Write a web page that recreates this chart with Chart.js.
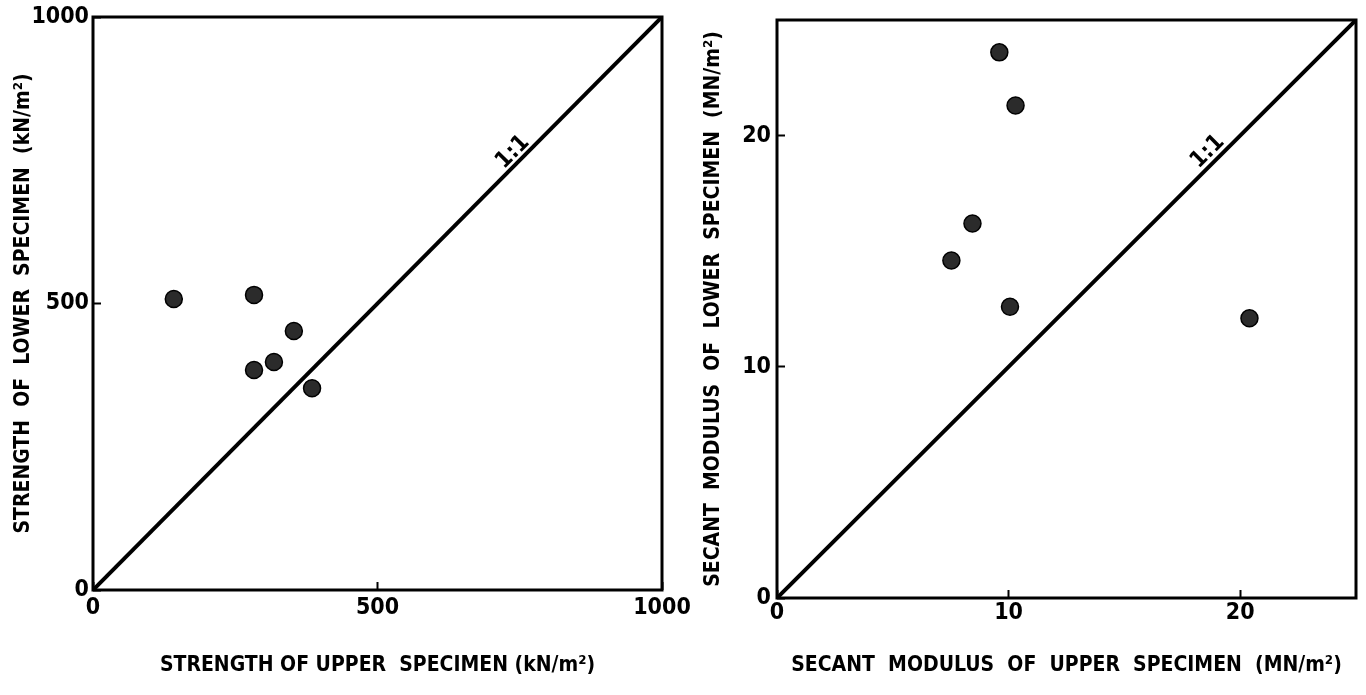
<!DOCTYPE html>
<html>
<head>
<meta charset="utf-8">
<script src="https://cdn.jsdelivr.net/npm/chart.js@4.4.1/dist/chart.umd.min.js"></script>
<style>
  html, body { margin: 0; padding: 0; background: #fff; }
  #wrap { position: relative; width: 1366px; height: 695px; overflow: hidden; background: #fff; }
  .box { position: absolute; top: 0; height: 695px; }
  #boxL { left: 0; width: 720px; }
  #boxR { left: 683px; width: 683px; }
</style>
</head>
<body>
<div id="wrap">
  <div class="box" id="boxL"><canvas id="cL" width="720" height="695"></canvas></div>
  <div class="box" id="boxR"><canvas id="cR" width="683" height="695"></canvas></div>
</div>
<script>
// ---- Data ----
const strengthUpper = [142, 283, 353, 318, 283, 385];
const strengthLower = [508, 515, 452, 398, 384, 352];
const strengthTicks = [0, 500, 1000];
const strengthRange = [0, 1000];

const modulusUpper = [9.6, 10.3, 8.44, 7.53, 10.06, 20.4];
const modulusLower = [23.6, 21.3, 16.2, 14.6, 12.6, 12.1];
const modulusTicks = [0, 10, 20];
const modulusRange = [0, 25];

const lineLabel = '1:1';
const strengthLabelAt = [738, 764];
const modulusLabelAt = [18.6, 19.3];

const titles = {
  strengthX: 'STRENGTH OF UPPER  SPECIMEN (kN/m²)',
  strengthY: 'STRENGTH  OF  LOWER  SPECIMEN  (kN/m²)',
  modulusX: 'SECANT  MODULUS  OF  UPPER  SPECIMEN  (MN/m²)',
  modulusY: 'SECANT  MODULUS  OF  LOWER  SPECIMEN  (MN/m²)'
};

const FONT = '"Liberation Sans Narrow", "DejaVu Sans Condensed", "Liberation Sans", sans-serif';

// ---- plugins ----
const frameAndLabel = {
  id: 'frameAndLabel',
  afterDatasetsDraw(chart, args, opts) {
    const {ctx, chartArea: a, scales} = chart;
    ctx.save();
    ctx.strokeStyle = '#000';
    ctx.lineWidth = 3;
    ctx.strokeRect(a.left, a.top, a.right - a.left, a.bottom - a.top);
    // 1:1 label, rotated along the line
    const x0 = scales.x.getPixelForValue(scales.x.min), y0 = scales.y.getPixelForValue(scales.y.min);
    const x1 = scales.x.getPixelForValue(scales.x.max), y1 = scales.y.getPixelForValue(scales.y.max);
    const ang = Math.atan2(y1 - y0, x1 - x0);
    const px = scales.x.getPixelForValue(opts.at[0]);
    const py = scales.y.getPixelForValue(opts.at[1]);
    ctx.translate(px, py);
    ctx.rotate(ang);
    ctx.fillStyle = '#000';
    ctx.font = 'bold 23px ' + FONT;
    ctx.textAlign = 'center';
    ctx.textBaseline = 'middle';
    ctx.fillText(opts.text, 0, 0);
    ctx.restore();
  }
};

function makeChart(canvas, cfg) {
  const pts = cfg.xs.map((v, i) => ({x: v, y: cfg.ys[i]}));
  const lineData = [{x: cfg.range[0], y: cfg.range[0]}, {x: cfg.range[1], y: cfg.range[1]}];
  const setTicks = (scale) => { scale.ticks = cfg.ticks.map(v => ({value: v})); };
  const common = (title, tpad) => ({
    type: 'linear',
    min: cfg.range[0],
    max: cfg.range[1],
    afterBuildTicks: setTicks,
    border: { display: false },
    grid: {
      display: true,
      drawOnChartArea: false,
      drawTicks: true,
      tickLength: -8,
      tickWidth: 2,
      tickColor: '#000'
    },
    title: {
      display: true,
      text: title,
      color: '#000',
      font: { family: FONT, size: 21, weight: 'bold', lineHeight: 1.2 },
      padding: tpad
    }
  });
  const tickFont = { family: FONT, size: 23, weight: 'bold' };
  const xs = common(cfg.xTitle, {top: 0, bottom: 17});
  xs.position = 'bottom';
  xs.ticks = { color: '#000', font: tickFont, padding: cfg.xPad, maxRotation: 0, autoSkip: false, callback: (v) => String(v) };
  xs.afterFit = (s) => { s.height = cfg.xH; s.paddingLeft = 0; s.paddingRight = 0; s.paddingTop = 0; s.paddingBottom = 0; };
  const ys = common(cfg.yTitle, {top: cfg.yTitlePad, bottom: 0});
  ys.position = 'left';
  ys.ticks = { color: '#000', font: tickFont, padding: cfg.yPad, autoSkip: false, callback: (v) => String(v) };
  ys.afterFit = (s) => { s.width = cfg.yW; s.paddingLeft = 0; s.paddingRight = 0; s.paddingTop = 0; s.paddingBottom = 0; };

  return new Chart(canvas, {
    type: 'scatter',
    data: {
      datasets: [
        {
          type: 'line',
          data: lineData,
          borderColor: '#000',
          borderWidth: 4,
          pointRadius: 0,
          fill: false,
          order: 2
        },
        {
          type: 'scatter',
          data: pts,
          pointRadius: 8.5,
          backgroundColor: '#2b2b2b',
          borderColor: '#000',
          borderWidth: 1.5,
          order: 1
        }
      ]
    },
    options: {
      responsive: false,
      animation: false,
      events: [],
      layout: { padding: cfg.pad },
      plugins: {
        legend: { display: false },
        tooltip: { enabled: false },
        frameAndLabel: { text: lineLabel, at: cfg.labelAt }
      },
      scales: { x: xs, y: ys }
    },
    plugins: [frameAndLabel]
  });
}

makeChart(document.getElementById('cL'), {
  xs: strengthUpper, ys: strengthLower, ticks: strengthTicks, range: strengthRange,
  xTitle: titles.strengthX, yTitle: titles.strengthY, labelAt: strengthLabelAt,
  pad: {left: 0, top: 17, right: 58, bottom: 0},
  xH: 105, yW: 93, xPad: 12, yPad: 12, yTitlePad: 11
});

makeChart(document.getElementById('cR'), {
  xs: modulusUpper, ys: modulusLower, ticks: modulusTicks, range: modulusRange,
  xTitle: titles.modulusX, yTitle: titles.modulusY, labelAt: modulusLabelAt,
  pad: {left: 0, top: 20, right: 10, bottom: 0},
  xH: 97, yW: 94, xPad: 9, yPad: 14, yTitlePad: 18
});
</script>
</body>
</html>
